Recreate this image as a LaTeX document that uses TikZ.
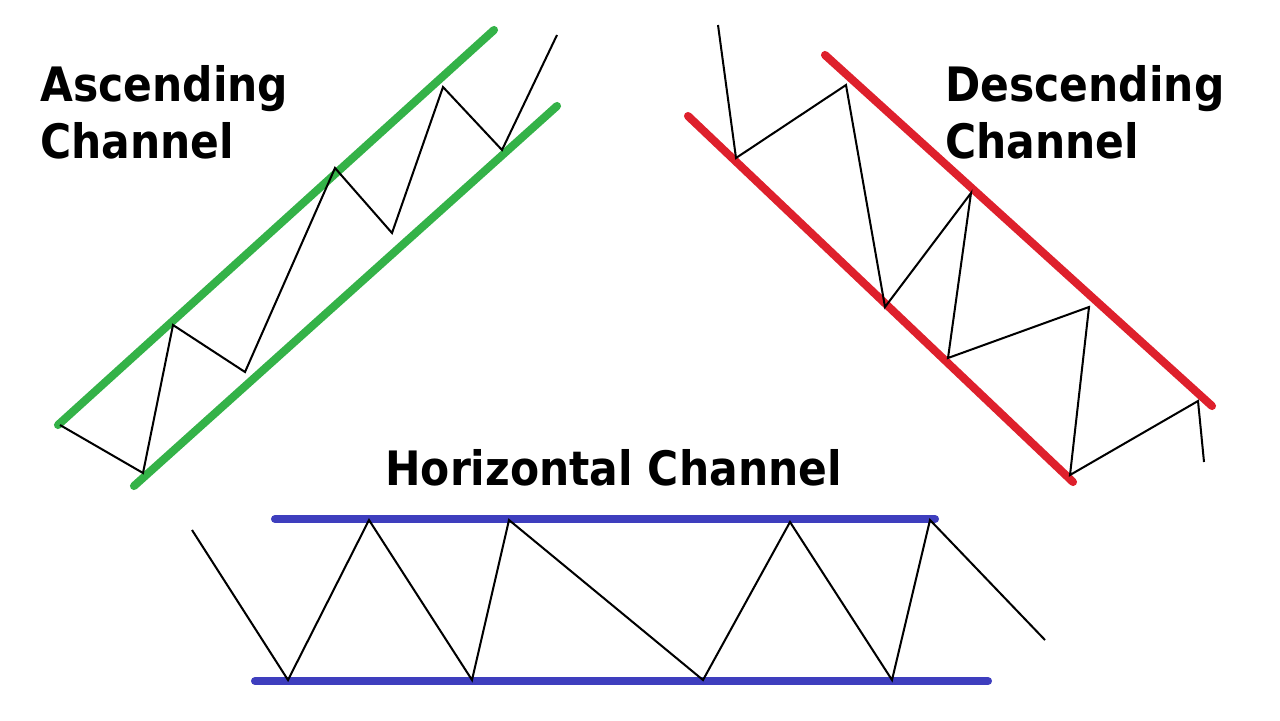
\documentclass[tikz,border=0pt]{standalone}
\usepackage{fontspec}
\setmainfont{DejaVu Sans}[FakeStretch=0.895]
\usetikzlibrary{positioning}

\definecolor{upgreen}{RGB}{52,178,72}
\definecolor{downred}{RGB}{222,32,44}
\definecolor{flatblue}{RGB}{62,62,190}

\begin{document}
\begin{tikzpicture}[
    x=0.02cm, y=-0.02cm,
    rail/.style={line width=4.6pt, line cap=round},
    zig/.style={line width=1.15pt, black, line join=miter},
    title/.style={font=\fontsize{27}{32}\selectfont\bfseries, inner sep=0pt, anchor=base west},
]
\useasboundingbox (0,0) rectangle (1280,720);

% Ascending channel
\foreach \x/\y [count=\i] in {60/425, 143/473, 173/325, 245/372, 335/168, 392/233, 443/87, 502/150, 557/35} {
    \coordinate (a\i) at (\x,\y);
}
\draw[rail, upgreen] (58,425) coordinate (ga1) -- (494,30) coordinate (ga2);
\draw[rail, upgreen] (134,486) coordinate (gb1) -- (557,106) coordinate (gb2);
\draw[zig] (a1) \foreach \i in {2,...,9} { -- (a\i) };
\node[title] (ascA) at (40,101) {Ascending};
\node[title] (ascB) at (40,158) {Channel};

% Descending channel
\foreach \x/\y [count=\i] in {718/25, 736/158, 846/85, 885/307, 971/193, 948/358, 1089/307, 1070/475, 1198/401, 1204/462} {
    \coordinate (d\i) at (\x,\y);
}
\draw[rail, downred] (825,55) coordinate (ra1) -- (1212,406) coordinate (ra2);
\draw[rail, downred] (688,116) coordinate (rb1) -- (1073,482) coordinate (rb2);
\draw[zig] (d1) \foreach \i in {2,...,10} { -- (d\i) };
\node[title] (descA) at (945,101) {Descending};
\node[title] (descB) at (945,158) {Channel};

% Horizontal channel
\foreach \x/\y [count=\i] in {192/530, 288/680, 369/520, 472/680, 509/520, 703/680, 790/522, 892/680, 930/520, 1045/640} {
    \coordinate (h\i) at (\x,\y);
}
\draw[rail, flatblue] (275,519) coordinate (ba1) -- (935,519) coordinate (ba2);
\draw[rail, flatblue] (255,681) coordinate (bb1) -- (988,681) coordinate (bb2);
\draw[zig] (h1) \foreach \i in {2,...,10} { -- (h\i) };
\node[title] (horz) at (385,485) {Horizontal Channel};

\end{tikzpicture}
\end{document}
